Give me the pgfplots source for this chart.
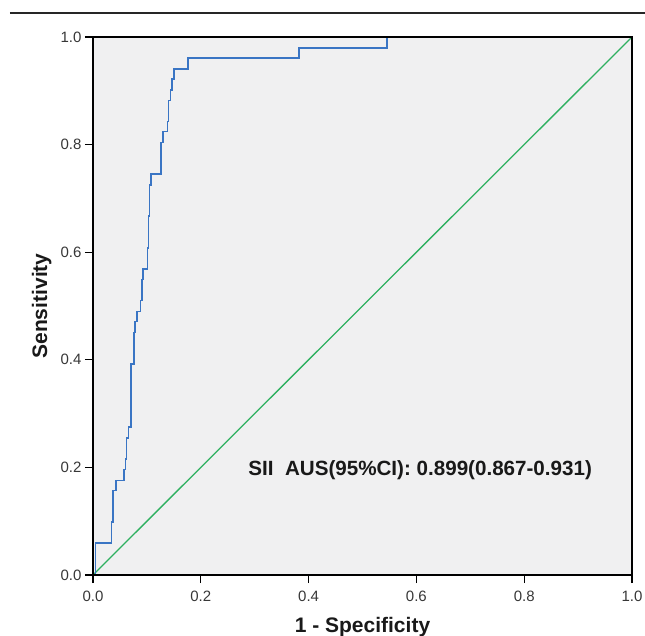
\documentclass[border=0pt]{standalone}
\usepackage{pgfplots}
\pgfplotsset{compat=1.18}
\usepackage{fontspec}
\setmainfont{Liberation Sans}

\definecolor{roc}{RGB}{58,117,196}
\definecolor{diag}{RGB}{46,176,96}
\definecolor{panel}{RGB}{240,240,241}
\definecolor{ticktext}{RGB}{55,55,55}

\begin{document}
\begin{tikzpicture}
  \begin{axis}[
    name=ax, at={(0,0)}, anchor=south west,
    width=539pt, height=538pt, scale only axis,
    xmin=0, xmax=1, ymin=0, ymax=1,
    clip=false, axis on top,
    axis background/.style={fill=panel},
    axis line style={black, line width=1.2pt},
    xtick={0,0.2,0.4,0.6,0.8,1}, ytick={0,0.2,0.4,0.6,0.8,1},
    xtick pos=bottom, ytick pos=left, tick align=outside,
    major tick length=8pt,
    tick style={black, line width=1.2pt},
    /pgf/number format/assume math mode=true,
    /pgf/number format/.cd, fixed, fixed zerofill, precision=1, /pgfplots/.cd,
    ticklabel style={font=\fontsize{15}{18}\selectfont, text=ticktext},
    xticklabel style={yshift=-4pt},
    xlabel={1 - Specificity}, ylabel={Sensitivity},
    label style={font=\bfseries\fontsize{21}{25}\selectfont, text=black!90},
    xlabel style={at={(axis description cs:0.5,-0.106)}, anchor=base},
    ylabel style={at={(axis description cs:-0.0853,0.5)}, anchor=base},
  ]
    % reference line
    \addplot[diag, line width=1.3pt] coordinates {(0,0) (1,1)};
    % ROC curve (SII)
    \addplot[roc, line width=1.6pt] coordinates {
      (0,0) (0.005,0) (0.005,0.059) (0.034,0.059) (0.034,0.098)
      (0.037,0.098) (0.037,0.157) (0.043,0.157) (0.043,0.176)
      (0.057,0.176) (0.057,0.196) (0.060,0.196) (0.060,0.216)
      (0.062,0.216) (0.062,0.255) (0.066,0.255) (0.066,0.275)
      (0.071,0.275) (0.071,0.392) (0.076,0.392) (0.076,0.451)
      (0.078,0.451) (0.078,0.471) (0.082,0.471) (0.082,0.490)
      (0.088,0.490) (0.088,0.510) (0.091,0.510) (0.091,0.549)
      (0.093,0.549) (0.093,0.569) (0.101,0.569) (0.101,0.608)
      (0.103,0.608) (0.103,0.667) (0.105,0.667) (0.105,0.725)
      (0.108,0.725) (0.108,0.745) (0.126,0.745) (0.126,0.804)
      (0.130,0.804) (0.130,0.824) (0.138,0.824) (0.138,0.843)
      (0.140,0.843) (0.140,0.882) (0.144,0.882) (0.144,0.902)
      (0.147,0.902) (0.147,0.922) (0.150,0.922) (0.150,0.941)
      (0.176,0.941) (0.176,0.961) (0.382,0.961) (0.382,0.980)
      (0.546,0.980) (0.546,1) (1,1)
    };
    \node[font=\bfseries\fontsize{20.6}{24}\selectfont, text=black!90]
      at (axis cs:0.607,0.195) {SII\ \ AUS(95\%CI): 0.899(0.867-0.931)};
  \end{axis}
  % rule above the figure
  \draw[black!85, line width=2.5pt] (-83pt,562pt) -- (552pt,562pt);
  \pgfresetboundingbox
  \useasboundingbox (-93pt,-60pt) rectangle (552pt,575pt);
\end{tikzpicture}
\end{document}
